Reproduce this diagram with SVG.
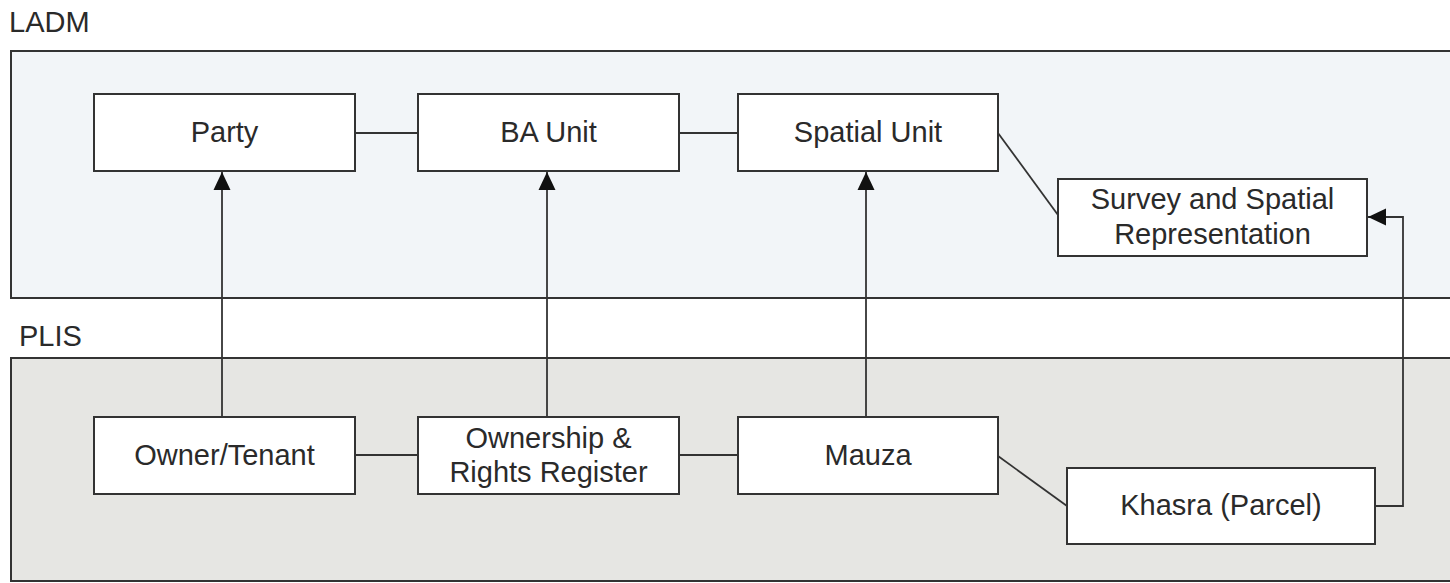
<svg xmlns="http://www.w3.org/2000/svg" width="1450" height="583" viewBox="0 0 1450 583">
<defs>
<style>
.lbl{font-family:"Liberation Sans",Arial,sans-serif;font-size:29px;fill:#2a2a2a}
.node{fill:#ffffff;stroke:#333;stroke-width:2}
.t{font-family:"Liberation Sans",Arial,sans-serif;font-size:29px;fill:#2a2a2a;text-anchor:middle}
.c{fill:none;stroke:#333;stroke-width:1.8}
</style>
<marker id="ahb" viewBox="0 0 18 18" refX="18" refY="9" markerWidth="18" markerHeight="18" markerUnits="userSpaceOnUse" orient="auto">
<path d="M0,0.5 L18,9 L0,17.5 z" fill="#111"/>
</marker>
</defs>
<rect width="1450" height="583" fill="#ffffff"/>
<g id="ladm">
<text class="lbl" x="9" y="32">LADM</text>
<rect x="11" y="51" width="1450" height="247" fill="#f2f5f8" stroke="#333" stroke-width="2"/>
</g>
<g id="plis">
<text class="lbl" x="19" y="346">PLIS</text>
<rect x="11" y="358" width="1450" height="223" fill="#e6e6e3" stroke="#333" stroke-width="2"/>
</g>
<g id="connectors">
<line class="c" x1="355" y1="133" x2="418" y2="133"/>
<line class="c" x1="679" y1="133" x2="738" y2="133"/>
<line class="c" x1="998" y1="133" x2="1058" y2="215"/>
<line class="c" x1="355" y1="455" x2="418" y2="455"/>
<line class="c" x1="679" y1="455" x2="738" y2="455"/>
<line class="c" x1="998" y1="456" x2="1067" y2="506"/>
<line class="c" x1="222" y1="417" x2="222" y2="172" marker-end="url(#ahb)"/>
<line class="c" x1="547" y1="417" x2="547" y2="172" marker-end="url(#ahb)"/>
<line class="c" x1="866" y1="417" x2="866" y2="172" marker-end="url(#ahb)"/>
<polyline class="c" points="1375,506 1403,506 1403,217 1368,217" marker-end="url(#ahb)"/>
</g>
<g id="party"><rect class="node" x="94" y="94" width="261" height="77"/><text class="t" x="224.5" y="142">Party</text></g>
<g id="baunit"><rect class="node" x="418" y="94" width="261" height="77"/><text class="t" x="548.5" y="142">BA Unit</text></g>
<g id="spatialunit"><rect class="node" x="738" y="94" width="260" height="77"/><text class="t" x="868" y="142">Spatial Unit</text></g>
<g id="survey"><rect class="node" x="1058" y="179" width="309" height="77"/><text class="t" x="1212.5" y="209">Survey and Spatial</text><text class="t" x="1212.5" y="244">Representation</text></g>
<g id="owner"><rect class="node" x="94" y="417" width="261" height="77"/><text class="t" x="224.5" y="465">Owner/Tenant</text></g>
<g id="ownership"><rect class="node" x="418" y="417" width="261" height="77"/><text class="t" x="548.5" y="448">Ownership &amp;</text><text class="t" x="548.5" y="482">Rights Register</text></g>
<g id="mauza"><rect class="node" x="738" y="417" width="260" height="77"/><text class="t" x="868" y="465">Mauza</text></g>
<g id="khasra"><rect class="node" x="1067" y="468" width="308" height="76"/><text class="t" x="1221" y="515">Khasra (Parcel)</text></g>
</svg>
